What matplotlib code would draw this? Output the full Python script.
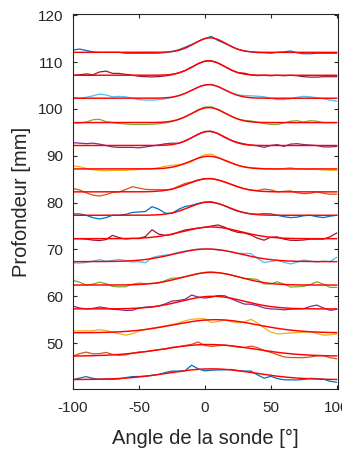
import numpy as np
import matplotlib
matplotlib.use("Agg")
import matplotlib.pyplot as plt

plt.rcParams['font.family'] = ['Liberation Sans', 'DejaVu Sans']
plt.rcParams['axes.unicode_minus'] = False

# Angles (deg) at which the measured profiles were read
angles = np.arange(-100, 101, 5)

# Gaussian fit parameters per profile (top to bottom)
fit_base = [112.1, 107.2, 102.3, 97.1, 92.2, 87.2, 82.3, 77.3, 72.3, 67.4, 62.4, 57.3, 52.2, 47.2, 42.2]
fit_amp = [3.1, 3.1, 2.9, 3.2, 3.0, 2.7, 2.8, 2.8, 2.5, 2.7, 2.7, 2.7, 2.8, 2.5, 2.3]
fit_center = [4, 3, 3, 3, 3, 3, 3, 3, 5, 2, 5, 6, 8, 3, 5]
fit_sigma = [12, 12, 12.5, 13, 12, 14, 16, 15, 22, 25, 22, 24, 32, 35, 33]

# Measured deviation from the fit (mm), read at 'angles'
dev_01 = [0.5, 0.7, 0.4, 0.1, 0.0, 0.0, 0.0, 0.0, -0.2, -0.2, -0.2, -0.2, -0.2, -0.2, -0.1, 0.0, 0.1, 0.2, 0.1, 0.0, 0.0,
          0.3, -0.2, -0.1, 0.0, 0.0, 0.0, 0.0, -0.1, -0.1, -0.2, 0.0, 0.1, 0.3, -0.1, -0.3, -0.3, -0.2, -0.2, -0.2, -0.2]
dev_02 = [0.0, 0.1, 0.3, 0.1, 0.7, 0.9, 0.4, 0.4, 0.2, 0.0, -0.2, -0.3, -0.35, -0.3, -0.2, -0.1, 0.0, 0.0, 0.0, 0.0, 0.0,
          0.0, 0.0, 0.0, 0.0, 0.0, 0.2, 0.0, -0.1, 0.0, -0.1, 0.0, -0.1, 0.0, -0.1, -0.3, -0.4, -0.4, -0.3, -0.3, -0.3]
dev_03 = [0.1, 0.0, 0.2, 0.5, 0.9, 0.7, 0.3, 0.4, 0.3, 0.0, -0.3, -0.4, -0.4, -0.35, -0.2, -0.1, 0.0, 0.0, 0.0, 0.0, 0.0,
          0.1, 0.0, -0.1, 0.0, 0.1, 0.3, 0.4, 0.4, 0.3, 0.0, -0.3, -0.3, -0.1, 0.2, 0.4, 0.3, 0.1, -0.1, -0.4, -0.6]
dev_04 = [-0.1, -0.1, 0.1, 0.6, 0.7, 0.2, 0.0, -0.2, -0.3, -0.4, -0.4, -0.4, -0.35, -0.3, -0.2, -0.1, 0.0, 0.0, 0.0, 0.1, 0.2,
          0.2, 0.0, -0.1, 0.0, 0.0, 0.1, 0.2, 0.0, -0.2, -0.4, -0.4, -0.1, 0.3, 0.4, 0.1, 0.4, 0.3, 0.0, 0.0, 0.0]
dev_05 = [0.6, 0.5, 0.4, 0.5, 0.3, 0.0, -0.3, -0.4, -0.4, -0.4, -0.5, -0.3, -0.1, 0.1, 0.3, 0.3, 0.0, 0.0, 0.0, 0.0, 0.1,
          0.1, 0.0, -0.1, 0.0, 0.1, 0.1, 0.0, -0.1, -0.4, 0.0, 0.2, -0.2, 0.3, 0.4, 0.2, 0.1, 0.0, -0.3, -0.3, -0.2]
dev_06 = [0.6, 0.5, 0.1, -0.2, -0.3, -0.4, -0.3, -0.3, -0.3, -0.2, -0.1, 0.0, 0.0, 0.2, 0.4, 0.4, 0.2, -0.1, -0.2, 0.1, 0.4,
          0.5, 0.1, -0.1, -0.1, 0.0, 0.0, 0.1, 0.1, 0.0, 0.0, -0.1, 0.1, 0.3, 0.0, -0.1, -0.1, -0.1, -0.2, -0.3, -0.3]
dev_07 = [0.7, 0.4, -0.2, -0.7, -0.9, -0.6, -0.1, 0.0, 0.5, 1.1, 0.8, 0.5, 0.4, 0.3, 0.1, -0.1, 0.2, 0.3, 0.1, 0.1, 0.1,
          0.1, 0.0, 0.0, 0.0, 0.0, 0.0, 0.0, 0.1, 0.5, 0.4, 0.0, 0.1, 0.2, -0.2, -0.4, -0.3, 0.0, -0.3, -0.5, -0.5]
dev_08 = [0.3, 0.3, 0.0, -0.5, -0.8, -0.5, 0.0, 0.0, 0.2, 0.6, 0.7, 0.8, 1.8, 1.2, 0.2, -0.1, 0.4, 0.5, 0.2, 0.1, 0.1,
          0.1, 0.0, 0.0, -0.1, -0.1, 0.0, 0.0, 0.1, 0.3, 0.3, 0.0, -0.3, -0.5, -0.4, -0.1, 0.0, -0.3, -0.5, -0.2, 0.0]
dev_09 = [0.0, 0.0, -0.1, -0.3, -0.4, -0.2, 0.7, 0.2, -0.1, 0.0, -0.1, 0.3, 1.6, 0.5, 0.0, -0.1, 0.1, 0.2, 0.1, 0.0, 0.0,
          0.2, 0.5, 0.2, -0.2, -0.3, -0.1, -0.2, -0.6, -0.8, 0.0, 0.2, -0.2, -0.4, -0.4, -0.3, -0.1, -0.1, -0.1, 0.4, 1.2]
dev_10 = [-0.3, -0.3, -0.2, 0.1, 0.4, 0.1, 0.2, 0.4, 0.1, -0.3, -0.3, -0.7, 0.2, 0.3, 0.2, 0.1, 0.2, 0.1, 0.1, 0.1, 0.0,
          0.0, -0.1, 0.0, 0.0, 0.0, 0.3, 0.6, -0.2, -0.8, -0.4, 0.0, -0.3, -0.6, -0.2, 0.3, 0.1, -0.1, 0.1, 0.0, 0.9]
dev_11 = [1.0, 0.6, 0.0, 0.2, 0.6, 0.3, -0.3, -0.4, -0.4, 0.1, 0.3, 0.1, 0.0, -0.1, 0.2, 0.4, 0.1, 0.0, -0.1, 0.0, 0.1,
          0.1, 0.0, 0.0, 0.0, 0.0, 0.0, 0.3, 0.4, -0.3, -0.1, 0.5, 0.1, -0.5, -0.4, -0.3, 0.1, 0.7, 0.2, -0.5, -0.5]
dev_12 = [0.6, 0.2, 0.0, 0.1, 0.4, 0.2, -0.1, -0.2, -0.4, -0.4, 0.0, 0.1, 0.0, 0.0, 0.2, 0.5, 0.3, 0.2, 0.8, 0.1, -0.3,
          -0.2, 0.2, 0.3, -0.1, -0.4, -0.6, -0.3, -0.3, -0.5, -0.5, -0.4, -0.4, -0.2, -0.1, 0.0, 0.5, 0.8, 0.2, -0.3, -0.1]
dev_13 = [0.4, 0.4, 0.4, 0.4, 0.6, 0.4, 0.0, -0.4, -0.8, -0.6, -0.2, 0.0, 0.1, 0.1, 0.1, 0.1, 0.2, 0.4, 0.5, 0.4, 0.3,
          -0.6, -0.4, 0.0, -0.2, -0.3, 0.1, 0.9, 0.4, -0.4, -1.0, -1.2, -0.9, -0.6, -0.4, -0.2, 0.0, -0.3, -0.6, -0.5, -0.3]
dev_14 = [0.0, 0.5, 0.8, 0.4, 0.4, 0.6, 0.1, -0.2, -0.2, 0.0, 0.1, 0.0, 0.0, 0.0, -0.1, 0.1, 0.0, 0.1, 0.2, 0.6, -0.2,
          -0.4, -0.2, 0.0, 0.0, -0.1, 0.0, 0.5, 0.4, 0.0, -0.2, -0.5, -0.8, -0.8, -0.7, -0.6, -0.4, -0.1, 0.0, -0.4, -0.6]
dev_15 = [0.0, 0.3, 0.6, 0.2, 0.0, 0.0, -0.1, -0.1, 0.1, 0.2, 0.1, 0.0, 0.0, 0.0, 0.2, 0.3, 0.1, 0.0, 1.0, 0.1, -0.4,
          -0.3, -0.2, -0.1, 0.1, 0.0, 0.1, 0.3, -0.3, -0.8, -0.2, -0.5, -0.6, -0.5, -0.4, -0.2, 0.1, 0.1, 0.0, -0.4, -0.6]
deviations = [dev_01, dev_02, dev_03, dev_04, dev_05, dev_06, dev_07, dev_08,
              dev_09, dev_10, dev_11, dev_12, dev_13, dev_14, dev_15]

# MATLAB default colour order, cycled from the bottom profile upward
matlab_colors = ['#0072BD', '#D95319', '#EDB120', '#7E2F8E', '#77AC30', '#4DBEEE', '#A2142F']

x_ticks = [-100, -50, 0, 50, 100]
y_ticks = [50, 60, 70, 80, 90, 100, 110, 120]
x_label = "Angle de la sonde [°]"
y_label = "Profondeur [mm]"

fig = plt.figure(figsize=(3.42, 4.5), dpi=100)
ax = fig.add_axes([0.2135, 0.1356, 0.7745, 0.8334])

xf = np.linspace(-100, 100, 401)
n = len(fit_base)
for k in range(n - 1, -1, -1):
    idx_from_bottom = n - 1 - k
    col = matlab_colors[idx_from_bottom % len(matlab_colors)]
    fit_at = fit_base[k] + fit_amp[k] * np.exp(-(angles - fit_center[k]) ** 2 / (2 * fit_sigma[k] ** 2))
    data = fit_at + np.array(deviations[k])
    ax.plot(angles, data, color=col, lw=0.9, solid_joinstyle='round')
    fit_curve = fit_base[k] + fit_amp[k] * np.exp(-(xf - fit_center[k]) ** 2 / (2 * fit_sigma[k] ** 2))
    ax.plot(xf, fit_curve, color='#FF0000', lw=1.05)

ax.set_xlim(-100, 101)
ax.set_ylim(40.2, 120.3)
ax.set_xticks(x_ticks)
ax.set_yticks(y_ticks)
ax.set_xticklabels([str(v) for v in x_ticks])
ax.set_yticklabels([str(v) for v in y_ticks])

txt = '#262626'
for s in ax.spines.values():
    s.set_color(txt)
    s.set_linewidth(0.8)
ax.tick_params(direction='in', length=3, width=0.8, colors=txt, labelsize=11,
               top=True, right=True, labelcolor=txt)
ax.tick_params(axis='y', pad=7)
ax.tick_params(axis='x', pad=8.5)
ax.set_xlabel(x_label, fontsize=14.5, color=txt, labelpad=10)
ax.set_ylabel(y_label, fontsize=14.5, color=txt, labelpad=5)

fig.savefig('out.png', dpi=100)
